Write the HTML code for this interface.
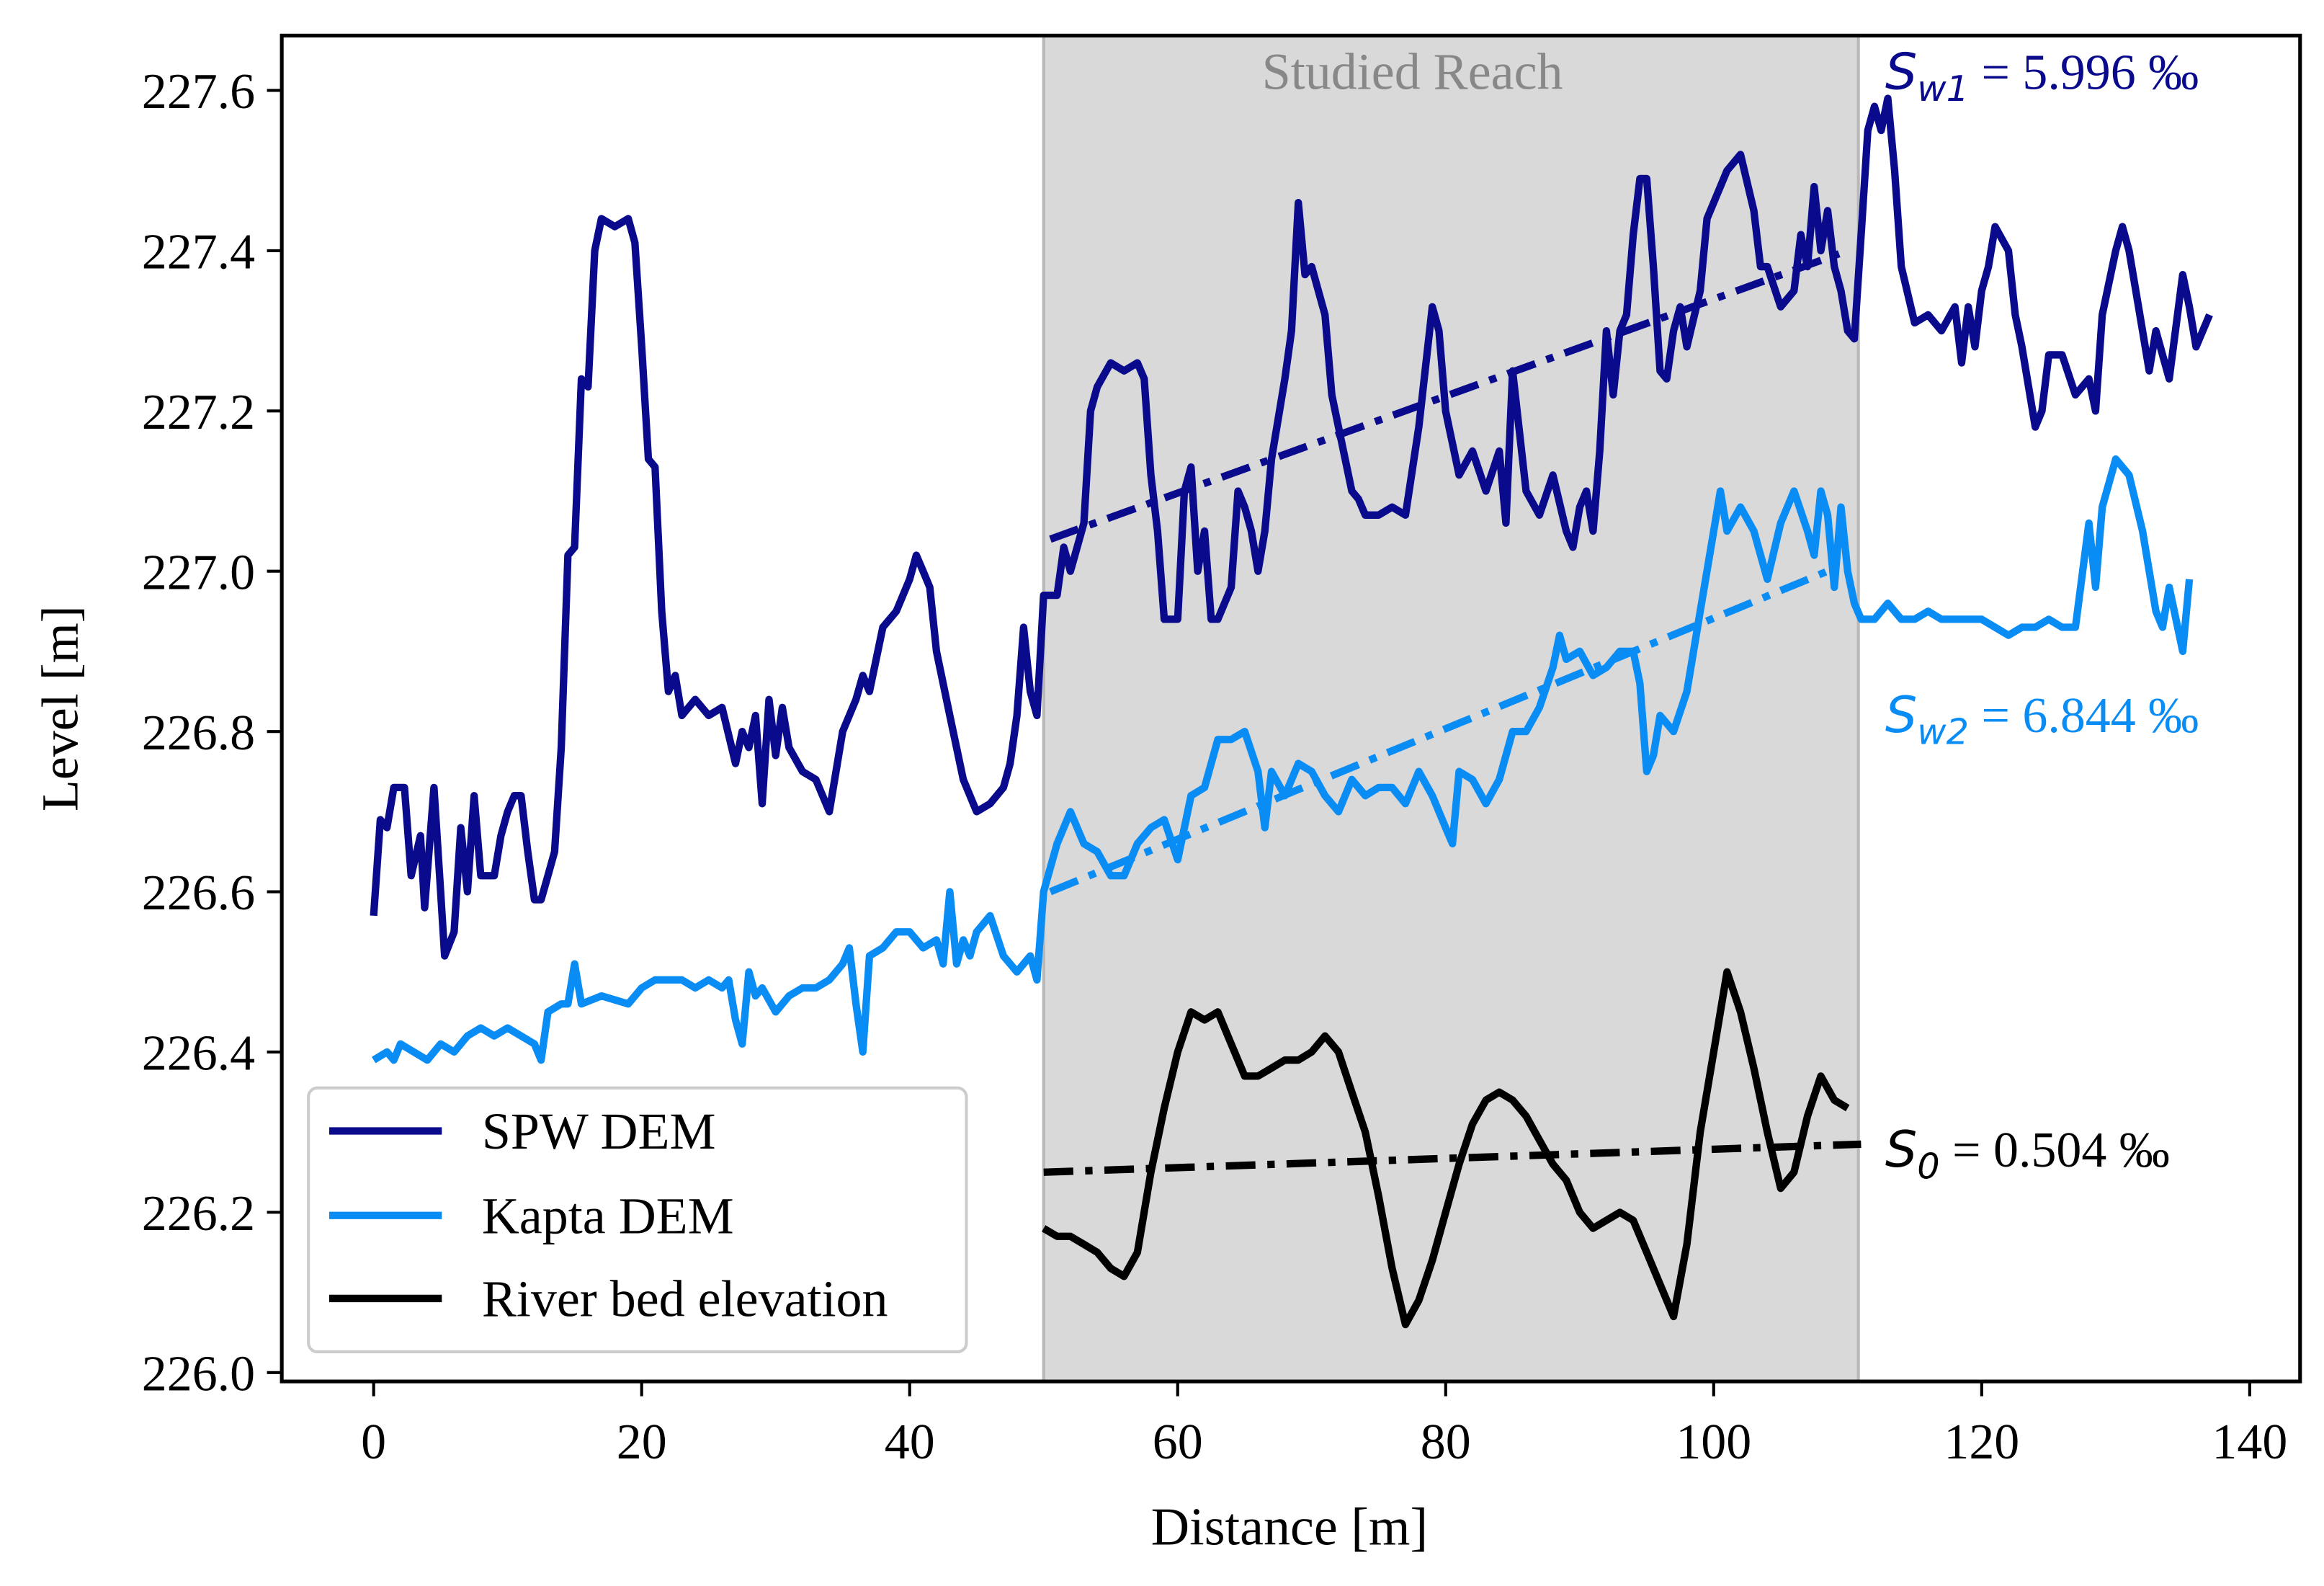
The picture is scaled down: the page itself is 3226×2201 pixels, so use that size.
<!DOCTYPE html>
<html><head><meta charset="utf-8"><style>html,body{margin:0;padding:0;background:#fff}svg{display:block}text{font-family:"Liberation Serif",serif}</style></head>
<body>
<svg id="chart" width="3226" height="2201" viewBox="0 0 1568 1070" xmlns="http://www.w3.org/2000/svg">
<rect x="0" y="0" width="1568" height="1070" fill="#fff"/>
<g id="plot"></g>
</svg>
<script>
const xTicks=[0,20,40,60,80,100,120,140];
const yTicks=[226.0,226.2,226.4,226.6,226.8,227.0,227.2,227.4,227.6];
const reach=[50,110.8];
const spwX=[0,0.5,1,1.5,2.3,2.8,3.5,3.8,4.5,5,5.3,6,6.5,7,7.5,8,9,9.5,10,10.5,11,11.5,12,12.5,13,13.5,14,14.5,15,15.5,16,16.5,17,18,19,19.5,20,20.5,21,21.5,22,22.5,23,24,25,26,27,27.5,28,28.5,29,29.5,30,30.5,31,32,33,34,35,36,36.5,37,38,39,40,40.5,41,41.5,42,43,44,45,46,47,47.5,48,48.5,49,49.5,50,51,51.5,52,53,53.5,54,55,56,57,57.5,58,58.5,59,60,60.5,61,61.5,62,62.5,63,64,64.5,65,65.5,66,66.5,67,67.5,68,68.5,69,69.5,70,71,71.5,72,73,73.5,74,75,76,77,78,79,79.5,80,81,82,83,84,84.5,85,86,87,88,89,89.5,90,90.5,91,91.5,92,92.5,93,93.5,94,94.5,95,95.5,96,96.5,97,97.5,98,99,99.5,100,101,102,103,103.5,104,105,106,106.5,107,107.5,108,108.5,109,109.5,110,110.5,111,111.5,112,112.5,113,113.5,114,115,116,117,118,118.5,119,119.5,120,120.5,121,122,122.5,123,124,124.5,125,126,127,128,128.5,129,130,130.5,131,132,132.5,133,134,135,135.5,136,137];
const spwY=[226.57,226.69,226.68,226.73,226.73,226.62,226.67,226.58,226.73,226.60,226.52,226.55,226.68,226.60,226.72,226.62,226.62,226.67,226.70,226.72,226.72,226.65,226.59,226.59,226.62,226.65,226.78,227.02,227.03,227.24,227.23,227.40,227.44,227.43,227.44,227.41,227.28,227.14,227.13,226.95,226.85,226.87,226.82,226.84,226.82,226.83,226.76,226.80,226.78,226.82,226.71,226.84,226.77,226.83,226.78,226.75,226.74,226.70,226.80,226.84,226.87,226.85,226.93,226.95,226.99,227.02,227.00,226.98,226.90,226.82,226.74,226.70,226.71,226.73,226.76,226.82,226.93,226.85,226.82,226.97,226.97,227.03,227.00,227.06,227.20,227.23,227.26,227.25,227.26,227.24,227.12,227.05,226.94,226.94,227.10,227.13,227.00,227.05,226.94,226.94,226.98,227.10,227.08,227.05,227.00,227.05,227.14,227.19,227.24,227.30,227.46,227.37,227.38,227.32,227.22,227.18,227.10,227.09,227.07,227.07,227.08,227.07,227.18,227.33,227.30,227.20,227.12,227.15,227.10,227.15,227.06,227.25,227.10,227.07,227.12,227.05,227.03,227.08,227.10,227.05,227.15,227.30,227.22,227.30,227.32,227.42,227.49,227.49,227.38,227.25,227.24,227.30,227.33,227.28,227.35,227.44,227.46,227.50,227.52,227.45,227.38,227.38,227.33,227.35,227.42,227.38,227.48,227.40,227.45,227.38,227.35,227.30,227.29,227.42,227.55,227.58,227.55,227.59,227.50,227.38,227.31,227.32,227.30,227.33,227.26,227.33,227.28,227.35,227.38,227.43,227.40,227.32,227.28,227.18,227.20,227.27,227.27,227.22,227.24,227.20,227.32,227.40,227.43,227.40,227.30,227.25,227.30,227.24,227.37,227.33,227.28,227.32];
const kapX=[0,1,1.5,2,3,4,5,6,7,8,9,10,11,12,12.5,13,14,14.5,15,15.5,17,19,20,21,22,23,24,25,26,26.5,27,27.5,28,28.5,29,30,31,32,33,34,35,35.5,36,36.5,37,38,39,40,41,42,42.5,43,43.5,44,44.5,45,46,47,48,49,49.5,50,51,52,53,54,55,56,57,58,59,60,61,62,63,64,65,66,66.5,67,68,69,70,71,72,73,74,75,76,77,78,79,80,80.5,81,82,83,84,85,86,87,88,88.5,89,90,91,92,93,94,94.5,95,95.5,96,97,98,99,100,100.5,101,102,103,104,105,106,107,107.5,108,108.5,109,109.5,110,110.5,111,112,113,114,115,116,117,118,119,120,121,122,123,124,125,126,127,128,128.5,129,130,131,132,133,133.5,134,135,135.5];
const kapY=[226.39,226.40,226.39,226.41,226.40,226.39,226.41,226.40,226.42,226.43,226.42,226.43,226.42,226.41,226.39,226.45,226.46,226.46,226.51,226.46,226.47,226.46,226.48,226.49,226.49,226.49,226.48,226.49,226.48,226.49,226.44,226.41,226.50,226.47,226.48,226.45,226.47,226.48,226.48,226.49,226.51,226.53,226.46,226.40,226.52,226.53,226.55,226.55,226.53,226.54,226.51,226.60,226.51,226.54,226.52,226.55,226.57,226.52,226.50,226.52,226.49,226.60,226.66,226.70,226.66,226.65,226.62,226.62,226.66,226.68,226.69,226.64,226.72,226.73,226.79,226.79,226.80,226.75,226.68,226.75,226.72,226.76,226.75,226.72,226.70,226.74,226.72,226.73,226.73,226.71,226.75,226.72,226.68,226.66,226.75,226.74,226.71,226.74,226.80,226.80,226.83,226.88,226.92,226.89,226.90,226.87,226.88,226.90,226.90,226.86,226.75,226.77,226.82,226.80,226.85,226.95,227.05,227.10,227.05,227.08,227.05,226.99,227.06,227.10,227.05,227.02,227.10,227.07,226.98,227.08,227.00,226.96,226.94,226.94,226.96,226.94,226.94,226.95,226.94,226.94,226.94,226.94,226.93,226.92,226.93,226.93,226.94,226.93,226.93,227.06,226.98,227.08,227.14,227.12,227.05,226.95,226.93,226.98,226.90,226.99];
const bedX=[50,51,52,53,54,55,56,57,58,59,60,61,62,63,64,65,66,67,68,69,70,71,72,73,74,75,76,77,78,79,80,81,82,83,84,85,86,87,88,89,90,91,92,93,94,95,96,97,98,99,100,101,102,103,104,105,106,107,108,109,110];
const bedY=[226.18,226.17,226.17,226.16,226.15,226.13,226.12,226.15,226.25,226.33,226.40,226.45,226.44,226.45,226.41,226.37,226.37,226.38,226.39,226.39,226.40,226.42,226.40,226.35,226.30,226.22,226.13,226.06,226.09,226.14,226.20,226.26,226.31,226.34,226.35,226.34,226.32,226.29,226.26,226.24,226.20,226.18,226.19,226.20,226.19,226.15,226.11,226.07,226.16,226.30,226.40,226.50,226.45,226.38,226.30,226.23,226.25,226.32,226.37,226.34,226.33];
const spwTrend=[[50.5,227.04],[110,227.40]];
const kapTrend=[[50.5,226.60],[108.5,227.00]];
const bedTrend=[[50,226.25],[111,226.285]];

const NS="http://www.w3.org/2000/svg";
const L=190,R=1552,T=24,B=932;
function sx(v){return 252+(v-0)*(1518-252)/140;}
function sy(v){return 926-(v-226.0)*(926-61)/1.6;}
const g=document.getElementById('plot');
function mk(tag,attrs,parent){const e=document.createElementNS(NS,tag);for(const k in attrs)e.setAttribute(k,attrs[k]);(parent||g).appendChild(e);return e;}

const shade=mk('rect',{x:sx(reach[0]),y:T,width:sx(reach[1])-sx(reach[0]),height:B-T,fill:'#d9d9d9',stroke:'#b8b8b8','stroke-width':2});


const rt=mk('text',{x:953,y:60,'text-anchor':'middle','font-size':35,fill:'#888'});
rt.textContent='Studied Reach';



function series(xs,ys,color,name){
  let d='';xs.forEach((x,i)=>{d+=(i?'L':'M')+sx(x).toFixed(1)+','+sy(ys[i]).toFixed(1);});
  const p=mk('path',{d:d,fill:'none',stroke:color,'stroke-width':5,'stroke-linejoin':'round'});
  
  
}
function trend(pts,color,name){
  const p=mk('line',{x1:sx(pts[0][0]),y1:sy(pts[0][1]),x2:sx(pts[1][0]),y2:sy(pts[1][1]),stroke:color,'stroke-width':5,'stroke-dasharray':'20,8,5,8'});
  
  
}
series(spwX,spwY,'#0a0a8c','spw-dem-line');
series(kapX,kapY,'#0a8cf5','kapta-dem-line');
series(bedX,bedY,'#000','river-bed-line');
trend(spwTrend,'#0a0a8c','spw-trend-line');
trend(kapTrend,'#0a8cf5','kapta-trend-line');
trend(bedTrend,'#000','bed-trend-line');

function slopeLabel(x,y,color,sub,val,name){
  const t=mk('text',{x:x,y:y,'font-size':34,fill:color});
  
  
  const a=mk('tspan',{'font-style':'italic','font-family':'DejaVu Sans, sans-serif','font-size':34},t);a.textContent='S';
  const b=mk('tspan',{'font-style':'italic','font-family':'DejaVu Sans, sans-serif','font-size':24,dy:8},t);b.textContent=sub;
  const c=mk('tspan',{dy:-8},t);c.textContent=' = '+val+' ‰';
}
slopeLabel(1272,60,'#0a0a8c','w1','5.996','sw1-label');
slopeLabel(1272,494,'#0a8cf5','w2','6.844','sw2-label');
slopeLabel(1272,787,'#000','0','0.504','s0-label');

const frame=mk('rect',{x:L,y:T,width:R-L,height:B-T,fill:'none',stroke:'#000','stroke-width':2.5});



xTicks.forEach(v=>{
  const t=mk('line',{x1:sx(v),y1:B,x2:sx(v),y2:B+10,stroke:'#000','stroke-width':2});
  
  
  const l=mk('text',{x:sx(v),y:B+52,'text-anchor':'middle','font-size':34});
  l.textContent=String(v);
  
  
});
yTicks.forEach(v=>{
  const t=mk('line',{x1:L-10,y1:sy(v),x2:L,y2:sy(v),stroke:'#000','stroke-width':2});
  
  
  const l=mk('text',{x:L-18,y:sy(v)+12,'text-anchor':'end','font-size':34});
  l.textContent=v.toFixed(1);
  
  
});
const xl=mk('text',{x:870,y:1042,'text-anchor':'middle','font-size':36});
xl.textContent='Distance [m]';


const yl=mk('text',{x:0,y:0,'text-anchor':'middle','font-size':35,transform:'translate(52,478) rotate(-90)'});
yl.textContent='Level [m]';



const lg=mk('g',{});


mk('rect',{x:208,y:734,width:444,height:178,rx:6,fill:'#fff','fill-opacity':0.85,stroke:'#ccc','stroke-width':2},lg);
const entries=[['SPW DEM','#0a0a8c',763],['Kapta DEM','#0a8cf5',820],['River bed elevation','#000',876]];
entries.forEach(e=>{
  const ln=mk('line',{x1:222,y1:e[2],x2:298,y2:e[2],stroke:e[1],'stroke-width':5},lg);
  
  
  const tx=mk('text',{x:325,y:e[2]+12,'font-size':35},lg);
  tx.textContent=e[0];
  
  
});
</script>
</body></html>
